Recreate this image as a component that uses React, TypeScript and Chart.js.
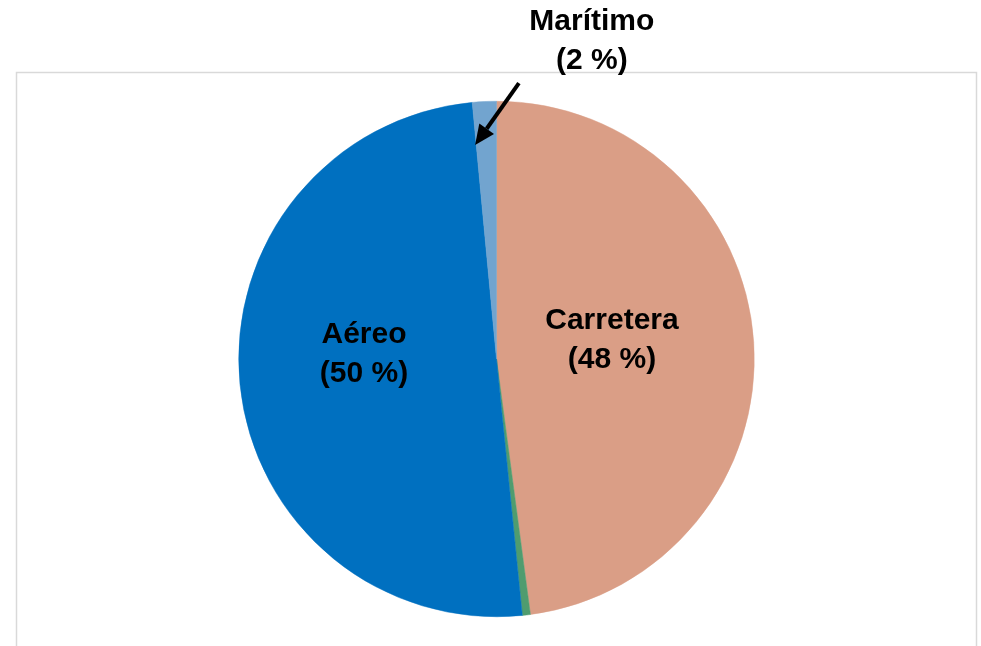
import React, { useEffect, useRef } from "react";
import { Chart, registerables } from "chart.js";

Chart.register(...registerables);

const categories = ["Carretera", "Otros", "Aéreo", "Marítimo"];
const shares = [47.9, 0.5, 50.1, 1.5];
const shownPercent = ["48 %", "", "50 %", "2 %"];
const colors = ["#DA9E86", "#4F9C6F", "#0070C0", "#72A4CF"];

// label anchors in units of pie radius, relative to pie centre
const labelAnchors: (null | { dx: number; dy: number })[] = [
  { dx: 0.448, dy: -0.081 },
  null,
  { dx: -0.514, dy: -0.027 },
  { dx: 0.37, dy: -1.24 },
];

const overlayPlugin = {
  id: "overlay",
  beforeDraw(chart: any) {
    const ctx = chart.ctx;
    ctx.save();
    ctx.strokeStyle = "#d9d9d9";
    ctx.lineWidth = 1.5;
    ctx.beginPath();
    ctx.moveTo(16.5, chart.height);
    ctx.lineTo(16.5, 72.5);
    ctx.lineTo(976.5, 72.5);
    ctx.lineTo(976.5, chart.height);
    ctx.stroke();
    ctx.restore();
  },
  afterDraw(chart: any) {
    const ctx = chart.ctx;
    const meta = chart.getDatasetMeta(0);
    const arc = meta.data[0];
    const cx = arc.x;
    const cy = arc.y;
    const R = arc.outerRadius;
    ctx.save();
    ctx.fillStyle = "#000";
    ctx.font = 'bold 30px "Liberation Sans", Arial, sans-serif';
    ctx.textAlign = "center";
    ctx.textBaseline = "alphabetic";
    labelAnchors.forEach((a, i) => {
      if (!a) return;
      const x = cx + a.dx * R;
      const y = cy + a.dy * R;
      ctx.fillText(categories[i], x, y + 10.5 - 19.5);
      ctx.fillText("(" + shownPercent[i] + ")", x, y + 10.5 + 19.5);
    });
    // arrow pointing at Marítimo slice
    const tx = cx + 0.087 * R, ty = cy - 1.07 * R;
    const hx = cx - 0.083 * R, hy = cy - 0.83 * R;
    const ang = Math.atan2(hy - ty, hx - tx);
    const headLen = 20, headW = 9;
    const bx = hx - headLen * Math.cos(ang);
    const by = hy - headLen * Math.sin(ang);
    ctx.strokeStyle = "#000";
    ctx.lineWidth = 4;
    ctx.beginPath();
    ctx.moveTo(tx, ty);
    ctx.lineTo(bx, by);
    ctx.stroke();
    ctx.beginPath();
    ctx.moveTo(hx, hy);
    ctx.lineTo(bx + headW * Math.sin(ang), by - headW * Math.cos(ang));
    ctx.lineTo(bx - headW * Math.sin(ang), by + headW * Math.cos(ang));
    ctx.closePath();
    ctx.fill();
    ctx.restore();
  },
};

export default function App() {
  const ref = useRef<HTMLCanvasElement | null>(null);
  useEffect(() => {
    document.body.style.margin = "0";
    const chart = new Chart(ref.current as HTMLCanvasElement, {
      type: "pie",
      data: {
        labels: categories,
        datasets: [
          {
            data: shares,
            backgroundColor: colors,
            borderColor: colors,
            borderWidth: 0.5,
          },
        ],
      },
      options: {
        responsive: false,
        animation: false,
        layout: { padding: { top: 101, bottom: 29, left: 12, right: 0 } },
        plugins: {
          legend: { display: false },
          tooltip: { enabled: false },
        },
      },
      plugins: [overlayPlugin],
    });
    return () => chart.destroy();
  }, []);
  return (
    <div style={{ width: 981, height: 646, background: "#fff" }}>
      <canvas ref={ref} width={981} height={646} style={{ display: "block" }} />
    </div>
  );
}
